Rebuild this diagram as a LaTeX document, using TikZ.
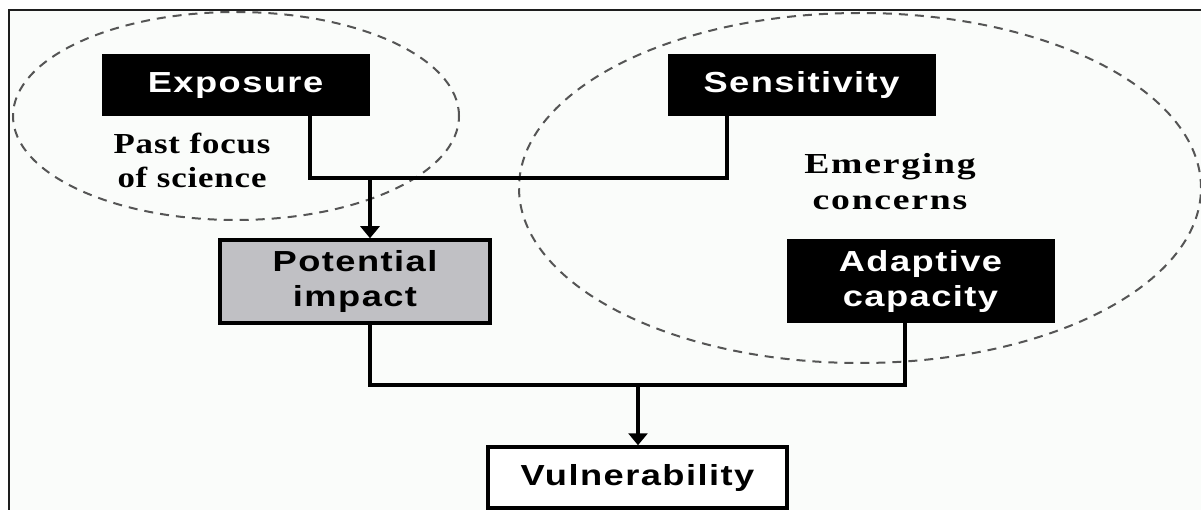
\documentclass[tikz,border=0pt]{standalone}
\usepackage{fontspec}
\usetikzlibrary{arrows.meta,shapes.geometric}
\newfontfamily\boxfont[FakeStretch=1.25,LetterSpace=5]{Liberation Sans}
\newfontfamily\labfontA[FakeStretch=1.2,LetterSpace=3]{Liberation Serif}
\newfontfamily\labfontB[FakeStretch=1.3,LetterSpace=6]{Liberation Serif}
\definecolor{bgpaper}{RGB}{250,252,250}
\definecolor{potgray}{RGB}{192,192,196}
\definecolor{dashgray}{RGB}{85,85,85}
\tikzset{
  boxtext/.style={font=\boxfont\bfseries\fontsize{29}{35}\selectfont, align=center, inner sep=0pt},
  blackbox/.style={boxtext, fill=black, text=white, draw=black, line width=1pt},
  graybox/.style={boxtext, fill=potgray, text=black, draw=black, line width=3.5pt},
  whitebox/.style={boxtext, fill=white, text=black, draw=black, line width=3.5pt},
  labelA/.style={font=\labfontA\bfseries\fontsize{29}{34}\selectfont, align=center, inner sep=0pt},
  labelB/.style={font=\labfontB\bfseries\fontsize{29}{36}\selectfont, align=center, inner sep=0pt},
  conn/.style={line width=3.5pt, draw=black},
  arr/.style={conn, -{Triangle[length=12pt,width=19pt]}},
  dashell/.style={ellipse, draw=dashgray, line width=2pt, dash pattern=on 9pt off 7pt, inner sep=0pt}
}
\begin{document}
\begin{tikzpicture}[x=1pt,y=-1pt]
\useasboundingbox (0,0) rectangle (1201,510);
\fill[white] (0,0) rectangle (1201,510);
\fill[bgpaper] (9,10) rectangle (1201,510);
\draw[line width=2pt, draw={rgb,255:red,30;green,30;blue,30}] (9,510) -- (9,10) -- (1201,10);

% dashed ellipses
\node[dashell, minimum width=446pt, minimum height=208pt] (pastell) at (236,116) {};
\node[dashell, minimum width=682pt, minimum height=350pt] (emerell) at (860,188) {};

% boxes
\node[blackbox, minimum width=267pt, minimum height=61pt] (exp) at (235.5,85.5) {Exposure};
\node[blackbox, minimum width=267pt, minimum height=61pt] (sen) at (801.5,85.5) {Sensitivity};
\node[graybox, minimum width=270pt, minimum height=83pt] (pot) at (355,281.5) {Potential\\impact};
\node[blackbox, minimum width=267pt, minimum height=83pt] (ada) at (920.5,281.5) {Adaptive\\capacity};
\node[whitebox, minimum width=299pt, minimum height=61pt] (vul) at (637.5,477.5) {Vulnerability};

% labels
\node[labelA] (past) at (192,160) {Past focus\\of science};
\node[labelB] (emer) at (890,182) {Emerging\\concerns};

% junction coordinates
\coordinate (jA) at (310,178);
\coordinate (jB) at (727,178);
\coordinate (jC) at (370,178);
\coordinate (kA) at (370,385);
\coordinate (kB) at (905,385);
\coordinate (kC) at (638,385);

% connectors
\draw[conn] (exp.south -| jA) -- (jA) -- (jB) -- (sen.south -| jB);
\draw[arr] (jC) -- (pot.north -| jC);
\draw[conn] (pot.south -| kA) -- (kA) -- (kB) -- (ada.south -| kB);
\draw[arr] (kC) -- (vul.north -| kC);
\end{tikzpicture}
\end{document}
